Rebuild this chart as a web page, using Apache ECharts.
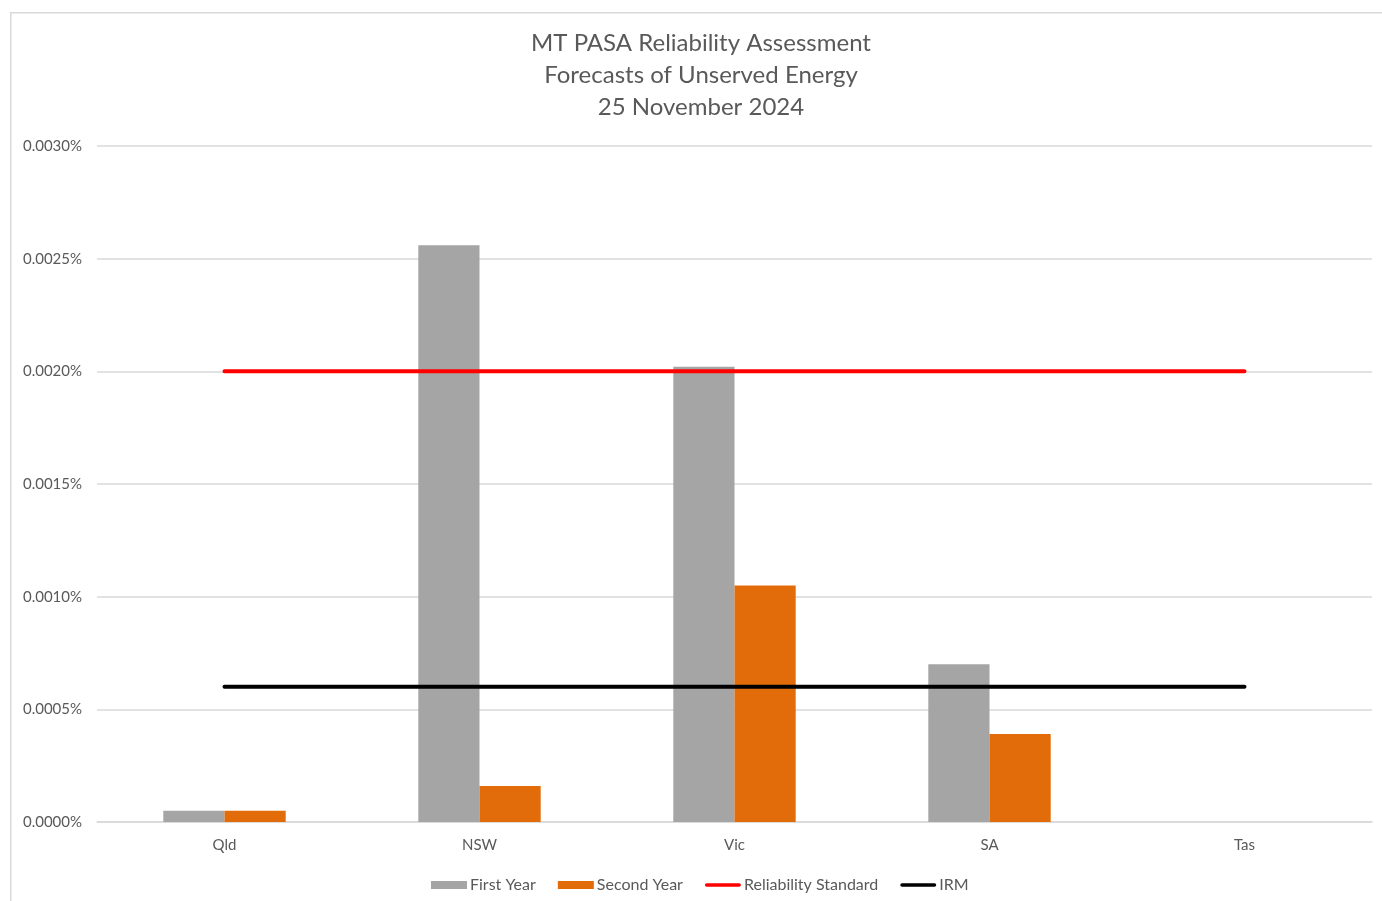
<!DOCTYPE html>
<html>
<head>
<meta charset="utf-8">
<script src="https://cdn.jsdelivr.net/npm/echarts@6/dist/echarts.min.js"></script>
<style>
html,body{margin:0;padding:0;background:#fff;}
#chart{width:1382px;height:901px;}
</style>
</head>
<body>
<div id="chart"></div>
<script>
const categories = ['Qld', 'NSW', 'Vic', 'SA', 'Tas'];
const firstYear = [0.00005, 0.00256, 0.00202, 0.00070, 0];
const secondYear = [0.00005, 0.00016, 0.00105, 0.00039, 0];
const reliabilityStandard = [0.002, 0.002, 0.002, 0.002, 0.002];
const irm = [0.0006, 0.0006, 0.0006, 0.0006, 0.0006];
const titleLines = ['MT PASA Reliability Assessment', 'Forecasts of Unserved Energy', '25 November 2024'];

const FONT = 'Lato, "Open Sans", sans-serif';
const LINE_ICON = 'path://M2,0 L38,0 A2,2 0 0 1 38,4 L2,4 A2,2 0 0 1 2,0 Z';
const chart = echarts.init(document.getElementById('chart'), null, {renderer: 'canvas'});
chart.setOption({
  backgroundColor: '#fff',
  animation: false,
  graphic: [{
    type: 'rect', left: 10, top: 12, z: -10,
    shape: {width: 1400, height: 1000},
    style: {fill: '#fff', stroke: '#D9D9D9', lineWidth: 1.5}
  }],
  title: {
    text: titleLines.join('\n'),
    left: 696, top: 22, textAlign: 'center',
    textStyle: {fontFamily: FONT, fontSize: 24, fontWeight: 'normal', color: '#595959', lineHeight: 32}
  },
  grid: {left: 97, right: 10, top: 146, bottom: 79, containLabel: false},
  legend: {
    left: 426, top: 872,
    itemGap: 22, itemWidth: 36, itemHeight: 8,
    textStyle: {fontFamily: FONT, fontSize: 16, color: '#595959', padding: [0,0,0,-2]},
    data: [
      {name: 'First Year', icon: 'rect'},
      {name: 'Second Year', icon: 'rect'},
      {name: 'Reliability Standard', icon: LINE_ICON, itemStyle: {color: '#FF0000'}},
      {name: 'IRM', icon: LINE_ICON, itemStyle: {color: '#000000'}}
    ]
  },
  xAxis: {
    type: 'category', data: categories,
    axisLine: {lineStyle: {color: '#D9D9D9', width: 1.5}},
    axisTick: {show: false},
    axisLabel: {fontFamily: FONT, fontSize: 15, color: '#595959', margin: 16},
    splitLine: {show: false}
  },
  yAxis: {
    type: 'value', min: 0, max: 0.003, interval: 0.0005,
    axisLine: {show: false}, axisTick: {show: false},
    axisLabel: {fontFamily: FONT, fontSize: 15, color: '#595959', margin: 15,
      formatter: v => v.toFixed(4) + '%'},
    splitLine: {lineStyle: {color: '#D9D9D9', width: 1.5}}
  },
  series: [
    {name: 'First Year', type: 'bar', data: firstYear, barGap: '0%', barCategoryGap: '52%',
      itemStyle: {color: '#A5A5A5'}},
    {name: 'Second Year', type: 'bar', data: secondYear,
      itemStyle: {color: '#E36C0A'}},
    {name: 'Reliability Standard', type: 'line', data: reliabilityStandard, symbol: 'none',
      lineStyle: {color: '#FF0000', width: 4, cap: 'round'}, itemStyle: {color: '#FF0000'}, z: 5},
    {name: 'IRM', type: 'line', data: irm, symbol: 'none',
      lineStyle: {color: '#000000', width: 4, cap: 'round'}, itemStyle: {color: '#000000'}, z: 5}
  ]
});
</script>
</body>
</html>
